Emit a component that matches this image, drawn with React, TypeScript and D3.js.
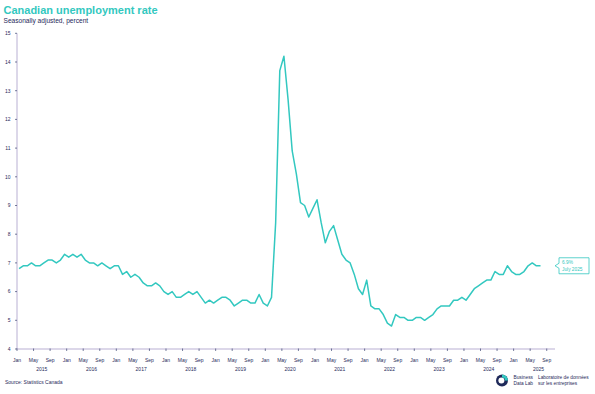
import React from "react";
import * as d3 from "d3";

const years = [2015, 2016, 2017, 2018, 2019, 2020, 2021, 2022, 2023, 2024, 2025];
const monthTickNames = ["Jan", "May", "Sep"];
const monthTickOffsets = [0, 4, 8];
const yTicks = [4, 5, 6, 7, 8, 9, 10, 11, 12, 13, 14, 15];

const rate2015 = [6.8, 6.9, 6.9, 7.0, 6.9, 6.9, 7.0, 7.1, 7.1, 7.0, 7.1, 7.3];
const rate2016 = [7.2, 7.3, 7.2, 7.3, 7.1, 7.0, 7.0, 6.9, 7.0, 6.9, 6.8, 6.9];
const rate2017 = [6.9, 6.6, 6.7, 6.5, 6.6, 6.5, 6.3, 6.2, 6.2, 6.3, 6.2, 6.0];
const rate2018 = [5.9, 6.0, 5.8, 5.8, 5.9, 6.0, 5.9, 6.0, 5.8, 5.6, 5.7, 5.6];
const rate2019 = [5.7, 5.8, 5.8, 5.7, 5.5, 5.6, 5.7, 5.7, 5.6, 5.6, 5.9, 5.6];
const rate2020 = [5.5, 5.8, 8.4, 13.7, 14.2, 12.7, 10.9, 10.1, 9.1, 9.0, 8.6, 8.9];
const rate2021 = [9.2, 8.4, 7.7, 8.1, 8.3, 7.8, 7.3, 7.1, 7.0, 6.6, 6.1, 5.9];
const rate2022 = [6.4, 5.5, 5.4, 5.4, 5.2, 4.9, 4.8, 5.2, 5.1, 5.1, 5.0, 5.0];
const rate2023 = [5.1, 5.1, 5.0, 5.1, 5.2, 5.4, 5.5, 5.5, 5.5, 5.7, 5.7, 5.8];
const rate2024 = [5.7, 5.9, 6.1, 6.2, 6.3, 6.4, 6.4, 6.7, 6.6, 6.6, 6.9, 6.7];
const rate2025 = [6.6, 6.6, 6.7, 6.9, 7.0, 6.9, 6.9];

const rates = [
  ...rate2015, ...rate2016, ...rate2017, ...rate2018, ...rate2019, ...rate2020,
  ...rate2021, ...rate2022, ...rate2023, ...rate2024, ...rate2025,
];

const lastLabel = ["6.9%", "July 2025"];

const TEAL = "#33c8c0";
const NAVY = "#1f2a5a";
const AXIS = "#b9b0d3";
const FONT = "'Liberation Sans', Arial, sans-serif";

export default function App() {
  const W = 595, H = 394;
  const totalSlots = 130;
  const x = d3.scaleLinear().domain([0, totalSlots]).range([17, 555]);
  const y = d3.scaleLinear().domain([4, 15]).range([349, 33.3]);

  const line = d3
    .line<number>()
    .x((_, i) => x(i + 0.5))
    .y((d) => y(d));

  const ticks: { idx: number; label: string }[] = [];
  years.forEach((yr, yi) => {
    monthTickOffsets.forEach((m, mi) => {
      ticks.push({ idx: yi * 12 + m, label: monthTickNames[mi] });
    });
  });

  const lastIdx = rates.length - 1;
  const lx = x(lastIdx + 0.5);
  const ly = y(rates[lastIdx]);
  const bx = lx + 18.5;
  const by = ly - 8;

  return (
    <svg
      width={W}
      height={H}
      style={{ position: "absolute", left: 0, top: 0, background: "#fff" }}
      fontFamily={FONT}
    >
      <text x={3.5} y={13.5} fontSize={11} fontWeight={700} fill={TEAL}>
        Canadian unemployment rate
      </text>
      <text x={3.5} y={22.5} fontSize={6.6} fill={NAVY}>
        Seasonally adjusted, percent
      </text>

      {/* y axis */}
      <line x1={x(0)} x2={x(0)} y1={y(15)} y2={y(4)} stroke={AXIS} strokeWidth={1} />
      {yTicks.map((t) => (
        <g key={t}>
          <line x1={x(0) - 2} x2={x(0)} y1={y(t)} y2={y(t)} stroke={NAVY} strokeWidth={0.6} />
          <text x={10.5} y={y(t) + 1.8} fontSize={5} textAnchor="end" fill={NAVY}>
            {t}
          </text>
        </g>
      ))}

      {/* x axis */}
      <line x1={x(0)} x2={x(totalSlots)} y1={y(4)} y2={y(4)} stroke={AXIS} strokeWidth={1.2} />
      {ticks.map((t) => (
        <g key={t.idx}>
          <line x1={x(t.idx)} x2={x(t.idx)} y1={y(4) - 0.5} y2={y(4) + 2} stroke={NAVY} strokeWidth={0.6} />
          <text x={x(t.idx)} y={362} fontSize={5} textAnchor="middle" fill={NAVY}>
            {t.label}
          </text>
        </g>
      ))}
      {years.map((yr, yi) => (
        <text key={yr} x={x(yi * 12 + 6)} y={371} fontSize={5} textAnchor="middle" fill={NAVY}>
          {yr}
        </text>
      ))}

      {/* data line */}
      <path d={line(rates) || ""} fill="none" stroke={TEAL} strokeWidth={1.5} strokeLinejoin="round" />

      {/* end label */}
      <path
        d={`M${bx - 4},${ly} L${bx},${ly - 2.5} L${bx},${by} L${bx + 30},${by} L${bx + 30},${by + 16} L${bx},${by + 16} L${bx},${ly + 2.5} Z`}
        fill="#fff"
        stroke={TEAL}
        strokeWidth={0.8}
      />
      <text x={bx + 3} y={by + 6.5} fontSize={4.8} fill={TEAL}>
        {lastLabel[0]}
      </text>
      <text x={bx + 3} y={by + 13} fontSize={4.8} fill={TEAL}>
        {lastLabel[1]}
      </text>

      {/* footer */}
      <text x={5} y={383.5} fontSize={5} fill={NAVY}>
        Source: Statistics Canada
      </text>
      <g transform="translate(502,380.5)">
        <circle r={6} fill={NAVY} />
        <path d="M0,-6 A6,6 0 0,1 0,6 A3.2,3.2 0 0,0 0,-6 Z" fill={TEAL} />
        <circle cx={-0.6} r={3} fill="#fff" />
        <path d="M0,-6 A6,6 0 0,1 6,0 L3,0 A3,3 0 0,0 0,-3 Z" fill={TEAL} />
      </g>
      <text x={513.5} y={379} fontSize={4.8} fill={NAVY}>Business</text>
      <text x={513.5} y={385} fontSize={4.8} fill={NAVY}>Data Lab</text>
      <text x={538} y={379} fontSize={4.8} fill={NAVY}>Laboratoire de données</text>
      <text x={538} y={385} fontSize={4.8} fill={NAVY}>sur les entreprises</text>
    </svg>
  );
}
